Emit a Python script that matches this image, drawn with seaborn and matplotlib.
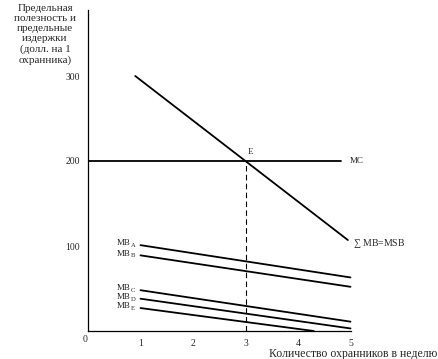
import matplotlib
matplotlib.use("Agg")
import matplotlib.pyplot as plt
import seaborn as sns
import pandas as pd

sns.set_theme(style="white")
plt.rcParams['font.family'] = ['Liberation Serif', 'DejaVu Serif']
plt.rcParams['mathtext.fontset'] = 'custom'
plt.rcParams['mathtext.rm'] = 'Liberation Serif'

# Data
x_ticks = [1, 2, 3, 4, 5]
y_ticks = [100, 200, 300]

msb_x = [0.9, 4.95]
msb_y = [300, 107]

mc_x = [0, 4.82]
mc_y = [200, 200]

mb_names = ['A', 'B', 'C', 'D', 'E']
mb_x_start = [1.0, 1.0, 1.0, 1.0, 1.0]
mb_x_end = [5.0, 5.0, 5.0, 5.0, 4.3]
mb_y_start = [101, 89, 48, 38, 27]
mb_y_end = [63, 52, 11, 3, 0]

eq_x = 3
eq_y = 200

rows = []
for i, (xs, ys) in enumerate([(msb_x, msb_y), (mc_x, mc_y)]):
    for xv, yv in zip(xs, ys):
        rows.append({'line': f'L{i}', 'x': xv, 'y': yv})
for n, x0, x1, y0, y1 in zip(mb_names, mb_x_start, mb_x_end, mb_y_start, mb_y_end):
    rows.append({'line': 'MB' + n, 'x': x0, 'y': y0})
    rows.append({'line': 'MB' + n, 'x': x1, 'y': y1})
df = pd.DataFrame(rows)

W, H = 438, 359
fig = plt.figure(figsize=(W / 100, H / 100), dpi=100)
ax = fig.add_axes([88 / W, 28 / H, 345 / W, 321 / H])

sns.lineplot(data=df, x='x', y='y', units='line', estimator=None,
             color='black', linewidth=1.3, ax=ax, legend=False)
ax.plot([eq_x, eq_x], [0, eq_y], color='black', linewidth=0.8,
        linestyle=(0, (5, 3)))

ax.set_xlim(0, 345 / 52.5)
ax.set_ylim(0, 321 / 0.85)
for s in ['top', 'right']:
    ax.spines[s].set_visible(False)
for s in ['left', 'bottom']:
    ax.spines[s].set_color('black')
    ax.spines[s].set_linewidth(0.9)
ax.spines['bottom'].set_bounds(0, 5)

ax.set_xticks(x_ticks)
ax.set_xticklabels([str(t) for t in x_ticks], fontsize=7)
ax.set_yticks(y_ticks)
ax.set_yticklabels([str(t) for t in y_ticks], fontsize=7)
ax.tick_params(axis='x', length=0, pad=6)
ax.tick_params(axis='y', length=0, pad=6)
ax.set_xlabel('')
ax.set_ylabel('')

ax.text(-0.05, -10, '0', fontsize=7, ha='center', va='center')

fig.text(45 / W, 1 - 4 / H,
         'Предельная\nполезность и\nпредельные\nиздержки\n(долл. на 1\nохранника)',
         ha='center', va='top', fontsize=8, linespacing=1.15)
fig.text(437 / W, 1 - 354 / H, 'Количество охранников в неделю',
         ha='right', va='center', fontsize=8.5)

ax.text(eq_x + 0.05, eq_y + 6, 'E', fontsize=6.5, ha='left', va='bottom')
ax.text(mc_x[1] + 0.16, mc_y[1], 'MC', fontsize=6.5, ha='left', va='center')
ax.text(msb_x[1] + 0.1, msb_y[1] - 4, r'$\sum$ MB=MSB', fontsize=7,
        ha='left', va='center')

for n, x0, y0 in zip(mb_names, mb_x_start, mb_y_start):
    ax.text(x0 - 0.19, y0 + 2, 'MB', fontsize=6.5, ha='right', va='center')
    ax.text(x0 - 0.18, y0 - 0.5, n, fontsize=4.8, ha='left', va='center')

fig.savefig('out.png', dpi=100)
